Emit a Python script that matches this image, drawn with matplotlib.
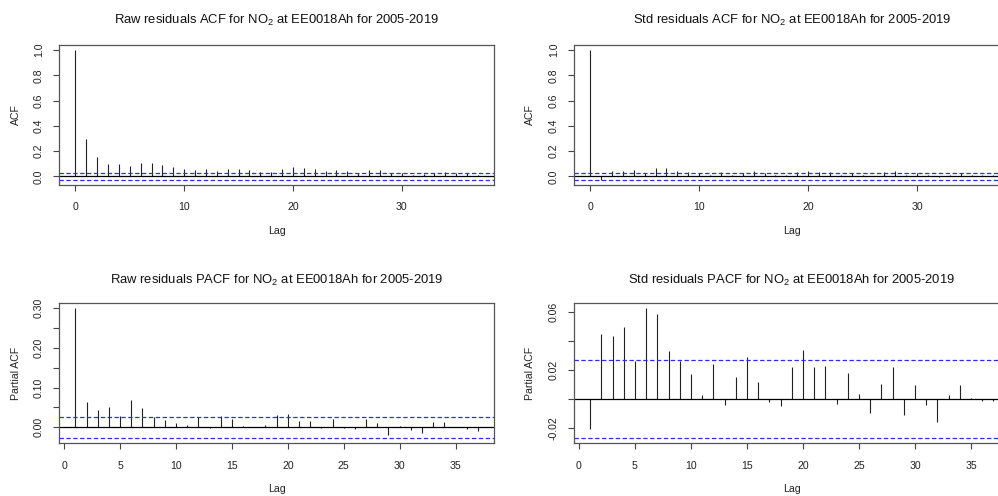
import matplotlib
matplotlib.use("Agg")
import matplotlib.pyplot as plt
import numpy as np

plt.rcParams['font.family'] = ['Liberation Sans', 'DejaVu Sans']
plt.rcParams['mathtext.fontset'] = 'custom'
plt.rcParams['mathtext.rm'] = 'Liberation Sans'
plt.rcParams['mathtext.it'] = 'Liberation Sans:italic'

# ---------------- data ----------------
acf_lags = list(range(0, 38))
pacf_lags = list(range(1, 38))

raw_acf = [1.0, 0.300, 0.153, 0.102, 0.097, 0.081, 0.108, 0.108, 0.090, 0.073,
           0.060, 0.048, 0.062, 0.040, 0.058, 0.062, 0.048, 0.035, 0.036, 0.055,
           0.072, 0.064, 0.056, 0.039, 0.048, 0.039, 0.030, 0.048, 0.048, 0.024,
           0.030, 0.015, 0.020, 0.030, 0.035, 0.030, 0.025, 0.015]

std_acf = [1.0, -0.025, 0.046, 0.044, 0.051, 0.025, 0.070, 0.065, 0.041, 0.035,
           0.027, 0.012, 0.037, 0.009, 0.030, 0.040, 0.024, 0.008, 0.008, 0.034,
           0.044, 0.032, 0.038, 0.008, 0.028, 0.011, 0.004, 0.037, 0.040, 0.012,
           0.027, 0.008, -0.002, 0.014, 0.025, 0.008, 0.009, 0.012]

raw_pacf = [0.299, 0.064, 0.044, 0.050, 0.029, 0.069, 0.049, 0.027, 0.018, 0.010,
            0.006, 0.027, -0.002, 0.028, 0.020, 0.003, 0.002, 0.006, 0.030, 0.034,
            0.016, 0.015, -0.002, 0.020, -0.001, -0.005, 0.022, 0.012, -0.019, 0.004,
            -0.007, -0.015, 0.013, 0.013, 0.001, -0.003, -0.009]

std_pacf = [-0.0209, 0.0444, 0.0435, 0.0493, 0.0263, 0.0621, 0.0584, 0.0330, 0.0258, 0.0170,
            0.0023, 0.0237, -0.0044, 0.0149, 0.0290, 0.0119, -0.0019, -0.0049, 0.0216, 0.0337,
            0.0216, 0.0226, -0.0035, 0.0179, 0.0033, -0.0098, 0.0105, 0.0219, -0.0109, 0.0095,
            -0.0044, -0.0156, 0.0028, 0.0095, 0.0007, -0.0014, -0.0012]

ci = 0.027

titles = [
    "Raw residuals ACF for NO$_\\mathrm{2}$ at EE0018Ah for 2005-2019",
    "Std residuals ACF for NO$_\\mathrm{2}$ at EE0018Ah for 2005-2019",
    "Raw residuals PACF for NO$_\\mathrm{2}$ at EE0018Ah for 2005-2019",
    "Std residuals PACF for NO$_\\mathrm{2}$ at EE0018Ah for 2005-2019",
]
ylabels = ["ACF", "ACF", "Partial ACF", "Partial ACF"]

acf_yticks = [0.0, 0.2, 0.4, 0.6, 0.8, 1.0]
acf_yticklabels = ["0.0", "0.2", "0.4", "0.6", "0.8", "1.0"]
rawp_yticks = [0.0, 0.05, 0.10, 0.15, 0.20, 0.25, 0.30]
rawp_yticklabels = ["0.00", "", "0.10", "", "0.20", "", "0.30"]
stdp_yticks = [-0.02, 0.0, 0.02, 0.04, 0.06]
stdp_yticklabels = ["-0.02", "", "0.02", "", "0.06"]
acf_xticks = [0, 10, 20, 30]
pacf_xticks = [0, 5, 10, 15, 20, 25, 30, 35]

# ---------------- layout ----------------
W, H = 998, 496
fig = plt.figure(figsize=(W / 100, H / 100), dpi=100)


def add_ax(left, top, right, bottom):
    return fig.add_axes([left / W, 1 - bottom / H, (right - left) / W, (bottom - top) / H])


axes = [
    add_ax(59.3, 45, 494.0, 185),
    add_ax(574.0, 45, 1009.5, 185),
    add_ax(59.3, 303.3, 494.0, 443.3),
    add_ax(574.0, 303.3, 1009.5, 443.3),
]

panels = [
    (acf_lags, raw_acf, acf_xticks, acf_yticks, acf_yticklabels),
    (acf_lags, std_acf, acf_xticks, acf_yticks, acf_yticklabels),
    (pacf_lags, raw_pacf, pacf_xticks, rawp_yticks, rawp_yticklabels),
    (pacf_lags, std_pacf, pacf_xticks, stdp_yticks, stdp_yticklabels),
]

for i, (ax, (lags, vals, xt, yt, ytl)) in enumerate(zip(axes, panels)):
    lags = np.asarray(lags)
    vals = np.asarray(vals)
    ax.vlines(lags, 0, vals, color='#222222', lw=0.8)
    ax.axhline(0, color='black', lw=0.9)
    ax.axhline(ci, color='#2b2bff', lw=0.9, ls=(0, (3.5, 2)))
    ax.axhline(-ci, color='#2b2bff', lw=0.9, ls=(0, (3.5, 2)))
    # R-style limits (4% expansion)
    x0, x1 = lags.min(), lags.max()
    dx = (x1 - x0) * 0.04
    ax.set_xlim(x0 - dx, x1 + dx)
    y0, y1 = min(-ci, vals.min()), max(ci, vals.max())
    dy = (y1 - y0) * 0.04
    ax.set_ylim(y0 - dy, y1 + dy)
    ax.set_xticks(xt)
    ax.set_xticklabels([str(v) for v in xt])
    ax.set_yticks(yt)
    ax.set_yticklabels(ytl, rotation=90, va='center')
    ax.tick_params(axis='both', direction='out', length=4, width=0.8,
                   color='#444444', labelsize=7.6, labelcolor='#222222')
    ax.tick_params(axis='x', pad=8.5)
    ax.tick_params(axis='y', pad=7)
    for s in ax.spines.values():
        s.set_color('#555555')
        s.set_linewidth(0.9)
    ax.set_xlabel("Lag", fontsize=7.6, color='#222222')
    ax.xaxis.set_label_coords(0.5, -46 / 140)
    ax.xaxis.label.set_va('center')
    ax.set_ylabel(ylabels[i], fontsize=7.6, color='#222222')
    ax.yaxis.set_label_coords(-43.5 / 435, 0.5)
    ax.yaxis.label.set_va('center')
    ty = 1 + (21 / 140 if i < 2 else 19.3 / 140)
    ax.text(0.5, ty, titles[i], transform=ax.transAxes, ha='center', va='baseline',
            fontsize=9.4, color='#111111')

fig.savefig("out.png", dpi=100)
